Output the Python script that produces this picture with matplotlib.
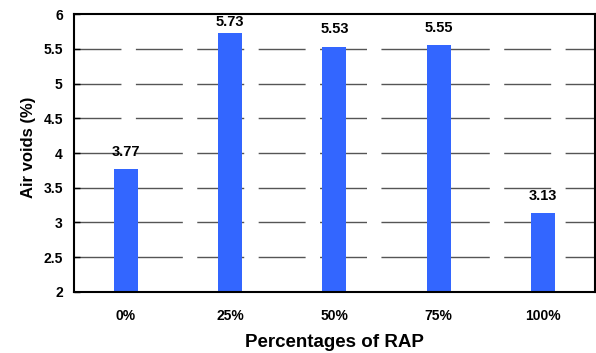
import matplotlib
matplotlib.use("Agg")
import matplotlib.pyplot as plt
import numpy as np

plt.rcParams['font.family'] = ['Liberation Sans', 'DejaVu Sans']

rap_levels = ["0%", "25%", "50%", "75%", "100%"]
air_voids = [3.77, 5.73, 5.53, 5.55, 3.13]
y_ticks = [2, 2.5, 3, 3.5, 4, 4.5, 5, 5.5, 6]

fig = plt.figure(figsize=(5.96, 3.53), dpi=100)
ax = fig.add_axes([0.124, 0.173, 0.874, 0.787])

x = np.arange(len(rap_levels))
ymin, ymax = 2, 6

# broken horizontal gridlines
for yv in y_ticks[1:-1]:
    ax.axhline(yv, color="#555555", lw=1.0, linestyle=(0, (33.8, 10.4)), zorder=1)

bars = ax.bar(x, air_voids, width=0.23, color="#3366ff", zorder=2)

# value labels, pulled down when they would run past the top of the plot
ax_h_pt = 0.787 * 3.53 * 72
for xi, v in zip(x, air_voids):
    room = (ymax - v) / (ymax - ymin) * ax_h_pt
    off = min(7.5, room - 11)
    ax.annotate(f"{v:.2f}", (xi, v), xytext=(0, off), textcoords="offset points",
                ha="center", va="bottom", fontsize=10.5, fontweight="bold", zorder=3)

ax.set_xlim(-0.5, len(rap_levels) - 0.5)
ax.set_ylim(ymin, ymax)
ax.set_yticks(y_ticks)
ax.set_yticklabels([f"{t:g}" for t in y_ticks], fontsize=10, fontweight="bold")
ax.set_xticks(x)
ax.set_xticklabels(rap_levels, fontsize=10, fontweight="bold")
ax.tick_params(axis="x", length=0, pad=12)
ax.tick_params(axis="y", direction="in", length=4, width=1, pad=8)

for s in ax.spines.values():
    s.set_linewidth(1.5)

ax.set_xlabel("Percentages of RAP", fontsize=13.5, fontweight="bold", labelpad=8)
ax.set_ylabel("Air voids (%)", fontsize=12, fontweight="bold")
ax.yaxis.set_label_coords(-0.073, 0.52)

fig.savefig("out.png", dpi=100)
